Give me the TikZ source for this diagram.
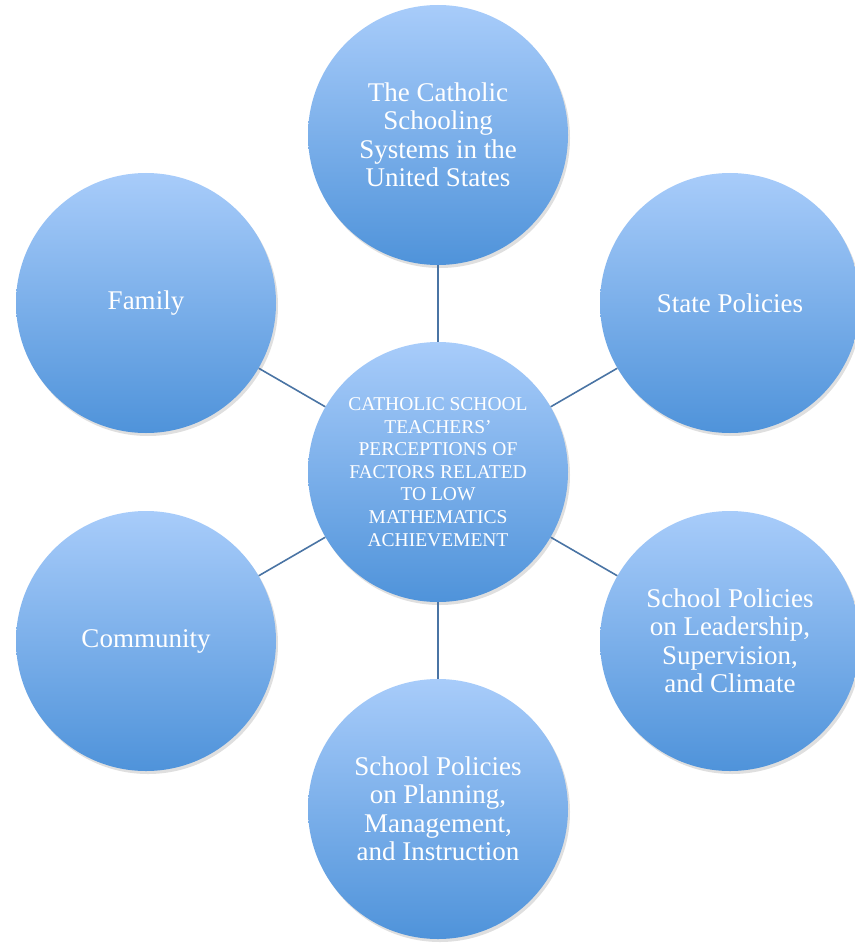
\documentclass[tikz,border=0pt]{standalone}
\usepackage{fontspec}
\setmainfont{Liberation Serif}
\usetikzlibrary{shadows}
\definecolor{ctop}{HTML}{A8CCFA}
\definecolor{cbot}{HTML}{4F93DA}
\definecolor{linkc}{HTML}{4A74A4}
\tikzset{
  bubble/.style={circle, minimum size=260pt, inner sep=0pt, top color=ctop, bottom color=cbot,
    draw=none, text=white, align=center,
    drop shadow={opacity=0.25, shadow xshift=2pt, shadow yshift=-3pt},
    font=\fontsize{27}{28.5}\selectfont},
  hub/.style={bubble, font=\fontsize{19.5}{22.6}\selectfont},
  link/.style={draw=linkc, line width=1.6pt}
}
\begin{document}
\begin{tikzpicture}[x=1pt,y=-1pt]
\useasboundingbox (0,0) rectangle (854,944);
\node[hub] (c) at (438,472) {CATHOLIC SCHOOL\\TEACHERS'\\PERCEPTIONS OF\\FACTORS RELATED\\TO LOW\\MATHEMATICS\\ACHIEVEMENT};
\node[bubble] (t) at (438,135) {The Catholic\\Schooling\\Systems in the\\United States};
\node[bubble] (sp) at (730,303) {State Policies};
\node[bubble] (sl) at (730,641) {School Policies\\on Leadership,\\Supervision,\\and Climate};
\node[bubble] (b) at (438,809) {School Policies\\on Planning,\\Management,\\and Instruction};
\node[bubble] (cm) at (146,641) {Community};
\node[bubble] (f) at (146,303) {Family};
\foreach \n in {t,sp,sl,b,cm,f} \draw[link] (c) -- (\n);
\end{tikzpicture}
\end{document}
